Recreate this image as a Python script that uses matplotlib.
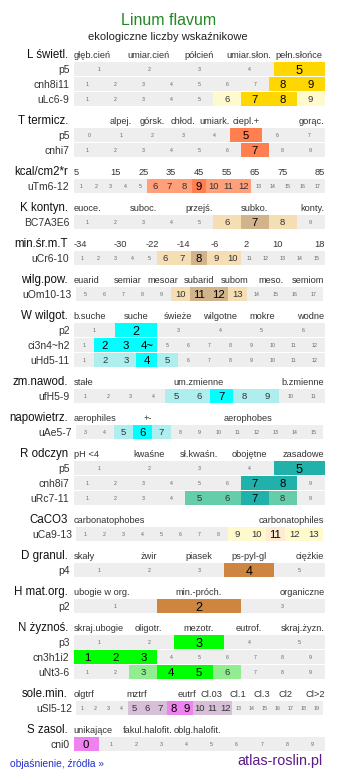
import matplotlib
matplotlib.use("Agg")
import matplotlib.pyplot as plt

plt.rcParams['font.family'] = ['Liberation Sans', 'DejaVu Sans']

# ---- data ----
title = "Linum flavum"
subtitle = "ekologiczne liczby wskaźnikowe"

section_names = ["L świetl.", "T termicz.", "kcal/cm2*r", "K kontyn.", "min.śr.m.T",
                 "wilg.pow.", "W wilgot.", "zm.nawod.", "napowietrz.", "R odczyn",
                 "CaCO3", "D granul.", "H mat.org.", "N żyznoś.", "sole.min.", "S zasol."]

header_labels = [
    ["głęb.cień", "umiar.cień", "półcień", "umiar.słon.", "pełn.słońce"],
    ["alpej.", "górsk.", "chłod.", "umiark.", "ciepl.+", "gorąc."],
    ["5", "15", "25", "35", "45", "55", "65", "75", "85"],
    ["euoce.", "suboc.", "przejś.", "subko.", "konty."],
    ["-34", "-30", "-22", "-14", "-6", "2", "10", "18"],
    ["euarid", "semiar", "mesoar", "subarid", "subom", "meso.", "semiom"],
    ["b.suche", "suche", "świeże", "wilgotne", "mokre", "wodne"],
    ["stałe", "um.zmienne", "b.zmienne"],
    ["aerophiles", "+-", "aerophobes"],
    ["pH <4", "kwaśne", "sł.kwaśn.", "obojętne", "zasadowe"],
    ["carbonatophobes", "carbonatophiles"],
    ["skały", "żwir", "piasek", "ps-pyl-gl", "ciężkie"],
    ["ubogie w org.", "min.-próch.", "organiczne"],
    ["skraj.ubogie", "oligotr.", "mezotr.", "eutrof.", "skraj.żyzn."],
    ["olgtrf", "mztrf", "eutrf", "Cl.03", "Cl.1", "Cl.3", "Cl2", "Cl>2"],
    ["unikające", "fakul.halofit.", "oblg.halofit."],
]

row_codes = [
    ["p5", "cnh8i11", "uLc6-9"], ["p5", "cnhi7"], ["uTm6-12"], ["BC7A3E6"],
    ["uCr6-10"], ["uOm10-13"], ["p2", "ci3n4~h2", "uHd5-11"], ["ufH5-9"],
    ["uAe5-7"], ["p5", "cnh8i7", "uRc7-11"], ["uCa9-13"], ["p4"], ["p2"],
    ["p3", "cn3h1i2", "uNt3-6"], ["uSl5-12"], ["cni0"],
]

row_ranges = [
    [(1, 5), (1, 9), (1, 9)], [(0, 7), (1, 9)], [(1, 17)], [(1, 9)],
    [(1, 15)], [(5, 17)], [(1, 6), (1, 12), (1, 12)], [(1, 11)],
    [(3, 15)], [(1, 5), (1, 9), (1, 9)], [(1, 13)], [(1, 5)], [(1, 3)],
    [(1, 5), (1, 9), (1, 9)], [(1, 19)], [(0, 9)],
]

row_strong = [
    [[5], [8, 9], [7, 8]], [[5], [7]], [[9]], [[7]],
    [[8]], [[11, 12]], [[2], [2, 3, 4], [4]], [[7]],
    [[6]], [[5], [7, 8], [7]], [[11]], [[4]], [[2]],
    [[3], [1, 2, 3], [4, 5]], [[8, 9]], [[0]],
]

row_weak = [
    [[], [], [6, 9]], [[], []], [[6, 7, 8, 10, 11, 12]], [[6, 8]],
    [[6, 7, 9, 10]], [[10, 13]], [[], [], [2, 3, 5]], [[5, 6, 8, 9]],
    [[5, 7]], [[], [], [5, 6, 8]], [[9, 10, 12, 13]], [[]], [[]],
    [[], [], [3, 6]], [[5, 6, 7, 10, 11, 12]], [[]],
]

cell_text_override = {"ci3n4~h2": {4: "4~"}}

# ---- layout / style ----
header_pos = [
    [0, .3, .5, .7, .9],
    [.1875, .3125, .4375, .5625, .6875, 1],
    [0, .1667, .2778, .3889, .5, .6111, .7222, .8333, 1],
    [0, .2778, .5, .7222, 1],
    [0, .1875, .3125, .4375, .5625, .6875, .8125, 1],
    [0, .214, .357, .5, .643, .786, 1],
    [0, .25, .4167, .5833, .75, 1],
    [0, .5, 1],
    [0, .2956, .694],
    [0, .3, .5, .7, 1],
    [0, 1],
    [0, .3, .5, .7, 1],
    [0, .5, 1],
    [0, .3, .5, .7, 1],
    [0, .25, .452, .549, .653, .75, .845, 1],
    [0, .294, .494],
]

section_colors = [
    ("#FFD700", "#FFFACD"), ("#FF7F50", "#FFA07A"), ("#FF7F50", "#FFA07A"),
    ("#D2B48C", "#F5DEB3"), ("#D2B48C", "#F5DEB3"), ("#D2B48C", "#F5DEB3"),
    ("#00FFFF", "#AFEEEE"), ("#00FFFF", "#AFEEEE"), ("#00FFFF", "#AFEEEE"),
    ("#20B2AA", "#66CDAA"), ("#FFEBD2", "#FFFACD"), ("#CD853F", "#DEB887"),
    ("#CD853F", "#DEB887"), ("#00FF00", "#90EE90"), ("#EE82EE", "#D8BFD8"),
    ("#EE82EE", "#D8BFD8"),
]

inset_rows = {"uOm10-13", "uAe5-7", "uCa9-13", "uSl5-12"}

LEFT, RIGHT = 73.5, 324.5
ROW_H = 14
PITCH = 15
GAP = 21
BG = "#EEEEEE"


def digit_baseline(yc, fs):
    return yc + 0.36 * fs * 100 / 72


fig = plt.figure(figsize=(3.37, 7.81), dpi=100)
ax = fig.add_axes([0, 0, 1, 1])
ax.set_xlim(0, 337)
ax.set_ylim(781, 0)
ax.axis("off")

ax.text(168.5, 25, title, ha="center", va="baseline", fontsize=11.5, color="#228822")
ax.text(168, 40.5, subtitle, ha="center", va="baseline", fontsize=8, color="#222222")

y = 54
for s, name in enumerate(section_names):
    # section header line
    ax.text(68, y + 4, name, ha="right", va="baseline", fontsize=8.3, color="#111111")
    for lab, f in zip(header_labels[s], header_pos[s]):
        if f == 0:
            x, ha = LEFT, "left"
        elif f == 1:
            x, ha = RIGHT, "right"
        else:
            x, ha = LEFT + f * (RIGHT - LEFT), "center"
        ax.text(x, y + 4, lab, ha=ha, va="baseline", fontsize=6.7, color="#333333")

    strong_c, weak_c = section_colors[s]
    yr = y
    for r, code in enumerate(row_codes[s]):
        yr += PITCH
        lo, hi = row_ranges[s][r]
        if code in inset_rows:
            left, right = 76, 323
        else:
            left, right = LEFT, RIGHT
        n = hi - lo + 1
        w = (right - left) / n
        big = 9.2 if n <= 6 else 8.2
        ax.barh(yr, right - left, left=left, height=ROW_H, color=BG, linewidth=0)
        ax.text(left - 4, digit_baseline(yr, 7.5), code, ha="right", va="baseline",
                fontsize=7.5, color="#333333")
        overrides = cell_text_override.get(code, {})
        for i, v in enumerate(range(lo, hi + 1)):
            cx = left + (i + 0.5) * w
            txt = overrides.get(v, str(v))
            if v in row_strong[s][r]:
                ax.barh(yr, w, left=left + i * w, height=ROW_H, color=strong_c, linewidth=0)
                fs, col = big, "#000000"
            elif v in row_weak[s][r]:
                ax.barh(yr, w, left=left + i * w, height=ROW_H, color=weak_c, linewidth=0)
                fs, col = 6.8, "#333333"
            else:
                fs, col = 3.8, "#666666"
            ax.text(cx, digit_baseline(yr, fs), txt, ha="center", va="baseline",
                    fontsize=fs, color=col)
    y = yr + GAP

ax.text(10, 767, "objaśnienie, źródła »", ha="left", va="baseline", fontsize=7.4, color="#2233CC")
ax.text(322, 765, "atlas-roslin.pl", ha="right", va="baseline", fontsize=10.4, color="#5A1A8A")

fig.savefig("out.png", dpi=100)
